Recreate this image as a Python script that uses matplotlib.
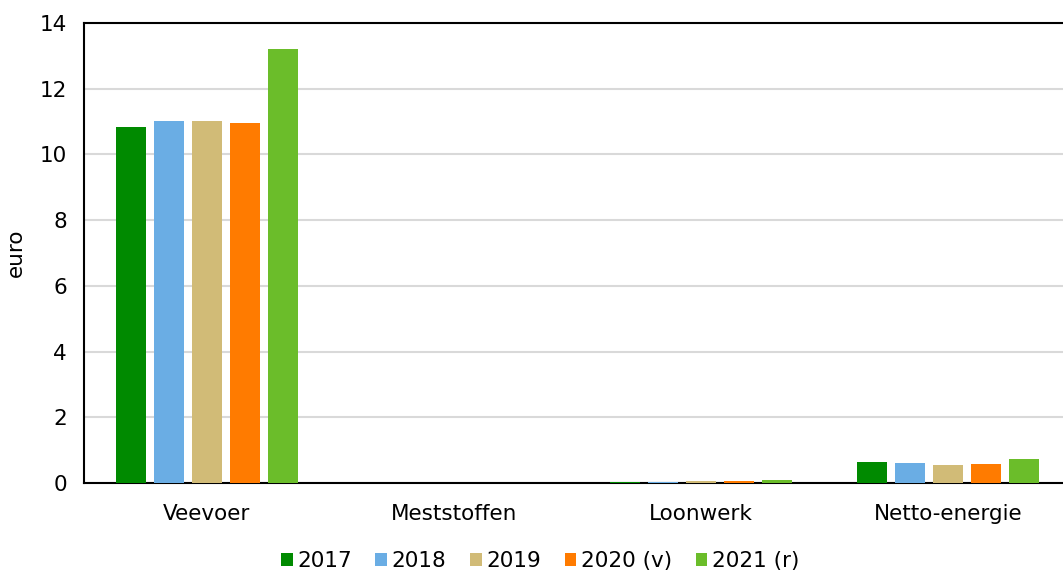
import numpy as np
import matplotlib.pyplot as plt

categories = ["Veevoer", "Meststoffen", "Loonwerk", "Netto-energie"]
series = ["2017", "2018", "2019", "2020 (v)", "2021 (r)"]
values = {
    "2017": [10.82, 0.0, 0.02, 0.63],
    "2018": [11.02, 0.0, 0.04, 0.60],
    "2019": [11.01, 0.0, 0.05, 0.56],
    "2020 (v)": [10.96, 0.0, 0.07, 0.58],
    "2021 (r)": [13.21, 0.0, 0.08, 0.72],
}
colors = ["#008a00", "#6aade4", "#d1bb77", "#ff7b00", "#6bbd2a"]

plt.rcParams["font.family"] = ["DejaVu Sans"]
fs = 15.5

fig = plt.figure(figsize=(10.63, 5.74), dpi=100)
# plot area runs slightly past the right edge, like the reference
ax = fig.add_axes([83.5 / 1063, (574 - 483) / 574, 988 / 1063, 460 / 574])

x = np.arange(len(categories))
pitch = 0.154
width = 0.121
for i, (s, c) in enumerate(zip(series, colors)):
    offs = (i - 2) * pitch
    ax.bar(x + offs, values[s], width, color=c, label=s, zorder=3)

ax.set_xlim(-0.5, 3.5)
ax.set_ylim(0, 14)
ax.set_yticks(range(0, 15, 2))
ax.set_xticks(x)
ax.set_xticklabels(categories)
ax.tick_params(axis="both", length=0, labelsize=fs, colors="#000000")
ax.tick_params(axis="y", pad=12)
ax.tick_params(axis="x", pad=15)
ax.yaxis.grid(True, color="#d9d9d9", linewidth=1.5, zorder=0)
ax.set_axisbelow(True)
for side in ["left", "top", "bottom"]:
    ax.spines[side].set_color("black")
    ax.spines[side].set_linewidth(1.5)
ax.spines["right"].set_visible(False)
ax.set_ylabel("euro", fontsize=fs)
ax.yaxis.set_label_coords(-58 / 988, 0.5)

fig.legend(loc="center", bbox_to_anchor=(540 / 1063, 1 - 561 / 574), ncol=5,
           frameon=False, fontsize=fs, handlelength=0.55, handleheight=0.55,
           handletextpad=0.2, columnspacing=1.1)

fig.savefig("out.png", dpi=100)
